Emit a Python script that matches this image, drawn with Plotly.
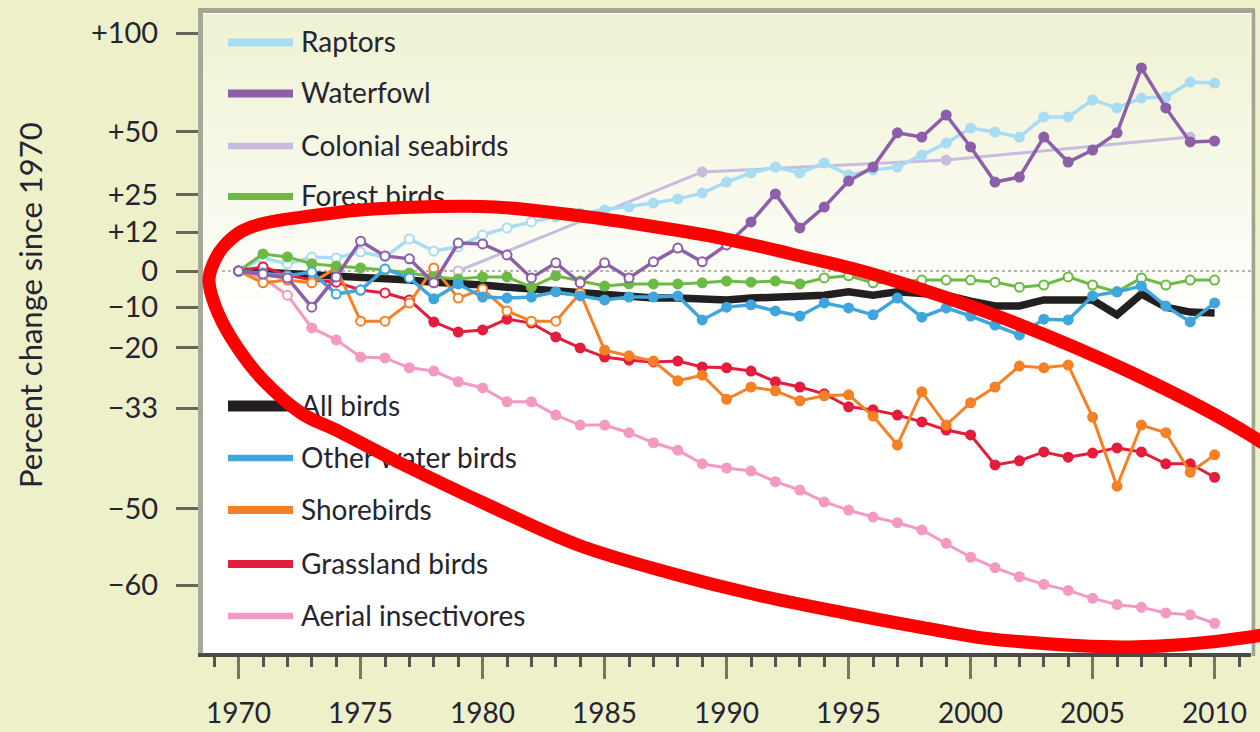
import math
import plotly.graph_objects as go

# ---------------- data (percent change since 1970) ----------------
years = list(range(1970, 2011))

raptors = [0, 3.9, 2.1, 4.2, 3.9, 5.7, 4.2, 9.8, 6.0, 7.3,
           11.1, 13.4, 15.4, 17.1, 18.4, 19.5, 20.5, 21.9, 23.4, 25.5,
           29.6, 33.1, 35.4, 33.1, 37.0, 32.3, 34.2, 35.4, 40.2, 45.2,
           51.7, 50.0, 47.8, 56.7, 56.7, 64.7, 60.9, 65.6, 66.1, 73.5, 73.0]

waterfowl = [0, -0.9, -2.0, -10.0, -1.7, 9.1, 4.5, 3.6, -3.4, 8.5,
             8.2, 4.8, -2.0, 2.4, -3.4, 2.4, -2.0, 2.7, 6.9, 2.7,
             7.9, 15.4, 25.2, 13.4, 20.5, 30.0, 35.4, 49.6, 47.8, 57.6,
             43.6, 29.6, 31.5, 47.8, 37.4, 42.3, 49.6, 80.8, 60.9, 45.7, 46.1]

colonial_years = [1979, 1989, 1999, 2009]
colonial = [0.0, 33.5, 38.2, 47.8]

forest = [0, 5.1, 4.2, 2.1, 1.5, 0.9, 0.3, -0.6, -1.7, -2.3,
          -1.7, -1.7, -4.6, -1.4, -2.9, -4.3, -3.7, -3.7, -3.7, -3.4,
          -2.9, -3.2, -2.9, -3.7, -2.0, -1.4, -3.4, -3.2, -2.6, -2.6,
          -2.6, -3.2, -4.6, -4.0, -1.7, -4.0, -5.9, -2.0, -4.0, -2.6, -2.6]

all_birds = [0, -0.3, -0.9, -1.4, -1.7, -2.0, -2.3, -2.6, -3.2, -3.4,
             -4.0, -4.6, -5.1, -5.7, -6.2, -7.0, -7.3, -7.6, -7.6, -8.1,
             -8.1, -7.6, -7.3, -7.3, -6.8, -5.9, -6.8, -5.9, -6.2, -6.8,
             -8.4, -9.7, -9.7, -8.1, -8.1, -8.1, -12.0, -6.5, -10.0, -11.3, -11.5]

other_water = [0, -0.6, -1.4, -0.3, -6.5, -5.4, 0.6, -2.0, -7.8, -3.7,
               -7.3, -7.6, -7.3, -5.9, -7.0, -8.1, -7.3, -7.3, -7.0, -13.3,
               -10.0, -9.4, -11.0, -12.3, -8.9, -10.2, -12.0, -7.6, -12.6, -10.2,
               -12.3, -14.6, -17.0, -13.1, -13.3, -7.0, -5.9, -4.3, -9.7, -13.8, -8.9]

shorebirds = [0, -3.4, -2.6, -3.4, 0.9, -13.6, -13.6, -8.9, 0.9, -7.6,
              -5.1, -11.0, -13.6, -13.6, -6.2, -20.6, -21.9, -23.1, -27.4, -26.2,
              -31.2, -28.7, -29.5, -31.5, -30.5, -30.3, -34.5, -39.8, -29.7, -36.2,
              -31.9, -28.7, -24.2, -24.6, -24.0, -34.7, -46.6, -36.2, -37.6, -44.4, -41.5]

grassland = [0, 1.2, -1.2, -2.6, -3.2, -5.4, -6.2, -8.1, -13.8, -16.3,
             -15.8, -13.1, -14.1, -17.5, -20.1, -22.2, -22.9, -23.3, -23.1, -24.4,
             -24.6, -25.3, -27.6, -28.7, -30.1, -32.7, -33.3, -34.3, -35.6, -37.1,
             -38.0, -43.2, -42.5, -41.0, -41.9, -41.2, -40.3, -41.0, -43.0, -43.0, -45.2]

aerial = [0, -2.0, -6.8, -15.3, -18.2, -22.2, -22.4, -24.6, -25.3, -27.6,
          -28.9, -31.7, -31.7, -34.3, -36.2, -36.2, -37.6, -39.4, -40.7, -43.0,
          -43.7, -44.2, -45.9, -47.2, -49.0, -50.2, -51.2, -52.0, -53.0, -54.8,
          -56.6, -57.9, -59.0, -59.9, -60.6, -61.5, -62.2, -62.5, -63.1, -63.3, -64.2]

y_tick_pct = [100, 50, 25, 12, 0, -10, -20, -33, -50, -60]
y_tick_text = ["+100", "+50", "+25", "+12", "0", "\u221210", "\u221220", "\u221233", "\u221250", "\u221260"]
x_tick_years = list(range(1970, 2011, 5))

legend_top = ["Raptors", "Waterfowl", "Colonial seabirds", "Forest birds"]
legend_bottom = ["All birds", "Other water birds", "Shorebirds", "Grassland birds", "Aerial insectivores"]

# ---------------- geometry / style ----------------
W, H = 1260, 732
PL, PR, PT, PB = 203, 1251, 13, 653
PX_PER_YEAR = 24.4
X0 = 1970 - (238.6 - PL) / PX_PER_YEAR
X1 = X0 + (PR - PL) / PX_PER_YEAR
LOG_PER_PX = math.log10(2) / 237.7
YTOP = (271 - PT) * LOG_PER_PX
YBOT = -(PB - 271) * LOG_PER_PX

BG = "rgb(237,240,201)"
TXT = "#262431"
FONT = "Lato"


def ratio(p):
    return 1 + p / 100.0


def px2x(px):
    return X0 + (px - PL) / (PR - PL) * (X1 - X0)


def py2y(py):
    return 10 ** (YTOP - (py - PT) / (PB - PT) * (YTOP - YBOT))


def ppx(px):
    return (px - PL) / (PR - PL)


def ppy(py):
    return (PB - py) / (PB - PT)


styles = {
    "Raptors": dict(color="#a8dcf3", width=3.5, open=(1970, 1982)),
    "Waterfowl": dict(color="#8c5fa8", width=3.5, open=(1970, 1990)),
    "Colonial seabirds": dict(color="#c9bbdf", width=3.0, open=(1979, 1979)),
    "Forest birds": dict(color="#6cba45", width=3.0, open=(1994, 2010)),
    "All birds": dict(color="#231f20", width=7.5, open=None),
    "Other water birds": dict(color="#3fa6dd", width=3.5, open=(1970, 1977)),
    "Shorebirds": dict(color="#f58025", width=3.0, open=(1970, 1984)),
    "Grassland birds": dict(color="#e31d3c", width=3.0, open=(1970, 1977)),
    "Aerial insectivores": dict(color="#f49ac2", width=3.0, open=(1970, 1972)),
}

series = {
    "Raptors": (years, raptors),
    "Waterfowl": (years, waterfowl),
    "Colonial seabirds": (colonial_years, colonial),
    "Forest birds": (years, forest),
    "All birds": (years, all_birds),
    "Other water birds": (years, other_water),
    "Shorebirds": (years, shorebirds),
    "Grassland birds": (years, grassland),
    "Aerial insectivores": (years, aerial),
}

draw_order = ["Colonial seabirds", "Raptors", "All birds", "Aerial insectivores",
              "Grassland birds", "Shorebirds", "Forest birds", "Other water birds", "Waterfowl"]

fig = go.Figure()

for name in draw_order:
    xs, vals = series[name]
    st = styles[name]
    ys = [ratio(v) for v in vals]
    if st["open"] is None:
        fig.add_trace(go.Scatter(x=xs, y=ys, mode="lines", name=name,
                                 line=dict(color=st["color"], width=st["width"]),
                                 showlegend=False, hoverinfo="skip"))
    else:
        a, b = st["open"]
        fills = ["white" if a <= yr <= b else st["color"] for yr in xs]
        fig.add_trace(go.Scatter(x=xs, y=ys, mode="lines+markers", name=name,
                                 line=dict(color=st["color"], width=st["width"]),
                                 marker=dict(size=9, color=fills, symbol="circle",
                                             line=dict(color=st["color"], width=2)),
                                 showlegend=False, hoverinfo="skip"))

shapes = []

# plot-area gradient (pale yellow at top fading to white)
n_strips = 40
g_top, g_bot = 14, 330
c0 = (239, 242, 210)
for i in range(n_strips):
    f = i / (n_strips - 1)
    col = tuple(round(c0[k] + (255 - c0[k]) * f) for k in range(3))
    y_a = g_top + (g_bot - g_top) * i / n_strips
    y_b = g_top + (g_bot - g_top) * (i + 1) / n_strips + 0.6
    shapes.append(dict(type="rect", xref="paper", yref="paper", x0=0, x1=1,
                       y0=ppy(y_b), y1=ppy(y_a), line=dict(width=0),
                       fillcolor="rgb(%d,%d,%d)" % col, layer="below"))

# zero reference line (dotted)
shapes.append(dict(type="line", xref="x", yref="y", x0=px2x(222), x1=X1, y0=1, y1=1,
                   line=dict(color="#9a9a9a", width=1.5, dash="dot"), layer="below"))

# top / right frame
shapes.append(dict(type="line", xref="paper", yref="paper", x0=ppx(198), x1=ppx(1255),
                   y0=ppy(10.5), y1=ppy(10.5), line=dict(color="#a6a68f", width=5)))
shapes.append(dict(type="line", xref="paper", yref="paper", x0=ppx(1253.5), x1=ppx(1253.5),
                   y0=ppy(656), y1=ppy(10), line=dict(color="#a3a394", width=3.5)))

# manual legend
legend_py = {"Raptors": 42.5, "Waterfowl": 93.5, "Colonial seabirds": 146, "Forest birds": 196.5,
             "All birds": 406, "Other water birds": 458, "Shorebirds": 510,
             "Grassland birds": 564, "Aerial insectivores": 616}
legend_w = {"Raptors": 8, "Waterfowl": 8, "Colonial seabirds": 6.5, "Forest birds": 7,
            "All birds": 11, "Other water birds": 6.5, "Shorebirds": 8,
            "Grassland birds": 8, "Aerial insectivores": 6.5}
for name in legend_top + legend_bottom:
    py = legend_py[name]
    shapes.append(dict(type="line", xref="paper", yref="paper", x0=ppx(228), x1=ppx(293),
                       y0=ppy(py), y1=ppy(py),
                       line=dict(color=styles[name]["color"], width=legend_w[name]), layer="above"))

names = legend_top + legend_bottom
fig.add_trace(go.Scatter(x=[px2x(301)] * len(names), y=[py2y(legend_py[n] + 2.5) for n in names],
                         mode="text", text=names, textposition="middle right",
                         textfont=dict(family=FONT, size=28, color=TXT),
                         showlegend=False, hoverinfo="skip", cliponaxis=False))

# hand-drawn red ellipse (closed Catmull-Rom curve through pixel points)
ell = [(209, 282), (214, 262), (224, 246), (242, 231), (265, 223), (295, 218), (360, 210),
       (420, 207), (495, 207), (573, 215), (650, 226), (726, 239), (800, 256), (879, 276),
       (1000, 317), (1130, 372), (1250, 435), (1305, 480), (1335, 535), (1330, 590),
       (1300, 622), (1250, 637), (1130, 647), (1000, 640), (936, 630), (850, 614),
       (757, 595), (670, 573), (578, 545), (490, 506), (400, 463), (340, 432),
       (301, 413), (263, 380), (237, 347), (218, 313)]
n = len(ell)


def P(i):
    px, py = ell[i % n]
    return ppx(px), ppy(py)


path = "M %.5f,%.5f" % P(0)
for i in range(n):
    p0, p1, p2, p3 = P(i - 1), P(i), P(i + 1), P(i + 2)
    c1 = (p1[0] + (p2[0] - p0[0]) / 6, p1[1] + (p2[1] - p0[1]) / 6)
    c2 = (p2[0] - (p3[0] - p1[0]) / 6, p2[1] - (p3[1] - p1[1]) / 6)
    path += " C %.5f,%.5f %.5f,%.5f %.5f,%.5f" % (c1[0], c1[1], c2[0], c2[1], p2[0], p2[1])
path += " Z"
shapes.append(dict(type="path", xref="paper", yref="paper", path=path,
                   line=dict(color="#ff0000", width=13), fillcolor="rgba(0,0,0,0)", layer="above"))

annotations = [dict(text="Percent change since 1970", xref="paper", yref="paper",
                    x=ppx(30), y=ppy(305), textangle=-90, showarrow=False,
                    xanchor="center", yanchor="middle",
                    font=dict(family=FONT, size=31, color=TXT))]

fig.update_layout(
    width=W, height=H, autosize=False,
    margin=dict(l=PL, r=W - PR, t=PT, b=H - PB, autoexpand=False),
    paper_bgcolor=BG, plot_bgcolor="white",
    shapes=shapes, annotations=annotations, showlegend=False,
    font=dict(family=FONT, color=TXT),
    xaxis=dict(range=[X0, X1], tickmode="array", tickvals=x_tick_years,
               ticktext=[str(y) for y in x_tick_years], automargin=False,
               ticks="outside", ticklen=22, tickwidth=3, tickcolor="#777766",
               minor=dict(tickmode="linear", tick0=1970, dtick=1, ticks="outside",
                          ticklen=10, tickwidth=3, tickcolor="#55554c"),
               showline=True, linecolor="#4a4a48", linewidth=4,
               showgrid=False, zeroline=False, ticklabelstandoff=10,
               tickfont=dict(family=FONT, size=28, color=TXT)),
    yaxis=dict(type="log", range=[YBOT, YTOP], tickmode="array", automargin=False,
               tickvals=[ratio(p) for p in y_tick_pct], ticktext=y_tick_text,
               ticks="outside", ticklen=22, tickwidth=3, tickcolor="#66665c",
               showline=True, linecolor="#a8a89a", linewidth=5,
               showgrid=False, zeroline=False, ticklabelstandoff=12,
               tickfont=dict(family=FONT, size=29, color=TXT)),
)

fig.write_html("out.html", config={"displayModeBar": False},
               post_script="document.body.style.margin='0';document.body.style.overflow='hidden';")
